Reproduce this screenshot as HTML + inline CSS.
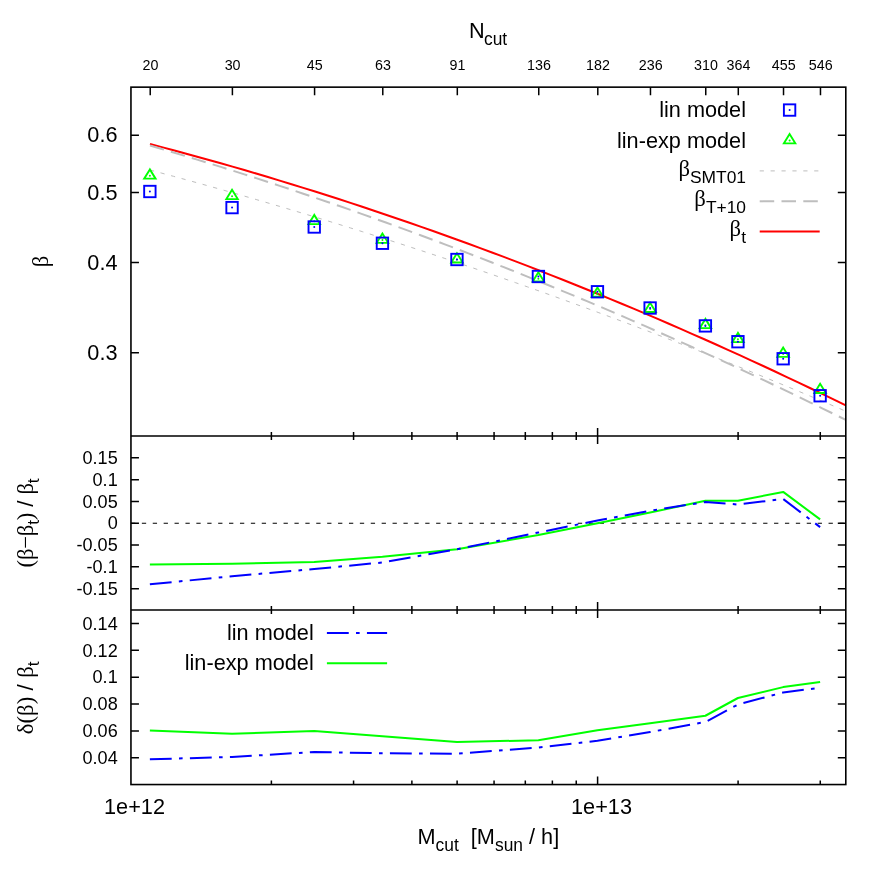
<!DOCTYPE html><html><head><meta charset="utf-8"><title>plot</title><style>html,body{margin:0;padding:0;background:#fff}svg{display:block;will-change:transform}text{font-family:"Liberation Sans",sans-serif;fill:#000;white-space:pre}.s{font-family:"Liberation Serif",serif}</style></head><body>
<svg width="872" height="872" viewBox="0 0 872 872">
<rect width="872" height="872" fill="#fff"/>
<g fill="none" stroke-linejoin="round">
<polyline points="150,144 161.79,147.1 173.59,150.24 185.38,153.43 197.17,156.67 208.97,159.95 220.76,163.28 232.55,166.65 244.35,170.07 256.14,173.53 267.93,177.04 279.73,180.6 291.52,184.2 303.31,187.85 315.11,191.55 326.9,195.29 338.69,199.07 350.48,202.91 362.28,206.78 374.07,210.71 385.86,214.68 397.66,218.7 409.45,222.76 421.24,226.87 433.04,231.02 444.83,235.22 456.62,239.47 468.42,243.76 480.21,248.1 492,252.48 503.8,256.92 515.59,261.39 527.38,265.91 539.18,270.48 550.97,275.1 562.76,279.76 574.56,284.46 586.35,289.22 598.14,294.01 609.94,298.86 621.73,303.75 633.52,308.69 645.32,313.67 657.11,318.7 668.9,323.77 680.69,328.89 692.49,334.06 704.28,339.27 716.07,344.53 727.87,349.83 739.66,355.18 751.45,360.58 763.25,366.02 775.04,371.51 786.83,377.04 798.63,382.62 810.42,388.25 822.21,393.92 834.01,399.64 845.8,405.4" stroke="#ff0000" stroke-width="2"/>
<polyline points="150,145.54 161.79,149 173.59,152.5 185.38,156.04 197.17,159.62 208.97,163.24 220.76,166.91 232.55,170.61 244.35,174.36 256.14,178.15 267.93,181.98 279.73,185.85 291.52,189.76 303.31,193.71 315.11,197.7 326.9,201.74 338.69,205.81 350.48,209.93 362.28,214.09 374.07,218.28 385.86,222.52 397.66,226.81 409.45,231.13 421.24,235.49 433.04,239.89 444.83,244.34 456.62,248.83 468.42,253.35 480.21,257.92 492,262.53 503.8,267.18 515.59,271.88 527.38,276.61 539.18,281.38 550.97,286.2 562.76,291.05 574.56,295.95 586.35,300.89 598.14,305.87 609.94,310.89 621.73,315.95 633.52,321.06 645.32,326.2 657.11,331.39 668.9,336.61 680.69,341.88 692.49,347.19 704.28,352.54 716.07,357.93 727.87,363.36 739.66,368.84 751.45,374.35 763.25,379.91 775.04,385.5 786.83,391.14 798.63,396.82 810.42,402.54 822.21,408.3 834.01,414.1 845.8,419.94" stroke="#bebebe" stroke-width="2" stroke-dasharray="14.5 7.3"/>
<polyline points="150,170.01 161.79,173.16 173.59,176.34 185.38,179.55 197.17,182.8 208.97,186.08 220.76,189.39 232.55,192.73 244.35,196.1 256.14,199.51 267.93,202.95 279.73,206.42 291.52,209.93 303.31,213.47 315.11,217.04 326.9,220.64 338.69,224.27 350.48,227.94 362.28,231.64 374.07,235.37 385.86,239.13 397.66,242.93 409.45,246.76 421.24,250.62 433.04,254.51 444.83,258.44 456.62,262.4 468.42,266.39 480.21,270.41 492,274.47 503.8,278.56 515.59,282.68 527.38,286.83 539.18,291.01 550.97,295.23 562.76,299.48 574.56,303.76 586.35,308.08 598.14,312.43 609.94,316.81 621.73,321.22 633.52,325.66 645.32,330.14 657.11,334.65 668.9,339.19 680.69,343.77 692.49,348.37 704.28,353.01 716.07,357.68 727.87,362.39 739.66,367.12 751.45,371.89 763.25,376.69 775.04,381.53 786.83,386.39 798.63,391.29 810.42,396.22 822.21,401.19 834.01,406.18 845.8,411.21" stroke="#bebebe" stroke-width="1" stroke-dasharray="4.2 6.7"/>
</g>
<g fill="none" stroke="#00ff00" stroke-width="1.9" stroke-linejoin="miter">
<path d="M149.87 169.42L144.17 178.65L155.57 178.65Z"/>
<path d="M232.05 189.87L226.35 199.1L237.75 199.1Z"/>
<path d="M314.23 214.92L308.53 224.15L319.93 224.15Z"/>
<path d="M382.43 233.62L376.73 242.85L388.13 242.85Z"/>
<path d="M456.96 253.22L451.26 262.45L462.66 262.45Z"/>
<path d="M538.4 272.32L532.7 281.55L544.1 281.55Z"/>
<path d="M597.45 287.52L591.75 296.75L603.15 296.75Z"/>
<path d="M650.12 302.72L644.42 311.95L655.82 311.95Z"/>
<path d="M705.4 318.92L699.7 328.15L711.1 328.15Z"/>
<path d="M737.94 332.92L732.24 342.15L743.64 342.15Z"/>
<path d="M783.17 347.62L777.47 356.85L788.87 356.85Z"/>
<path d="M820.13 383.82L814.43 393.05L825.83 393.05Z"/>
<path d="M789.6 134.12L783.9 143.35L795.3 143.35Z"/>
</g>
<g fill="#00ff00">
<circle cx="149.87" cy="175.8" r="1"/>
<circle cx="232.05" cy="196.25" r="1"/>
<circle cx="314.23" cy="221.3" r="1"/>
<circle cx="382.43" cy="240" r="1"/>
<circle cx="456.96" cy="259.6" r="1"/>
<circle cx="538.4" cy="278.7" r="1"/>
<circle cx="597.45" cy="293.9" r="1"/>
<circle cx="650.12" cy="309.1" r="1"/>
<circle cx="705.4" cy="325.3" r="1"/>
<circle cx="737.94" cy="339.3" r="1"/>
<circle cx="783.17" cy="354" r="1"/>
<circle cx="820.13" cy="390.2" r="1"/>
<circle cx="789.6" cy="140.5" r="1"/></g>
<g fill="none" stroke="#0000ff" stroke-width="1.9">
<rect x="144.17" y="185.8" width="11.4" height="11.4"/>
<rect x="226.35" y="201.9" width="11.4" height="11.4"/>
<rect x="308.53" y="221.3" width="11.4" height="11.4"/>
<rect x="376.73" y="237.55" width="11.4" height="11.4"/>
<rect x="451.26" y="253.8" width="11.4" height="11.4"/>
<rect x="532.7" y="270.8" width="11.4" height="11.4"/>
<rect x="591.75" y="286.05" width="11.4" height="11.4"/>
<rect x="644.42" y="302.3" width="11.4" height="11.4"/>
<rect x="699.7" y="320.2" width="11.4" height="11.4"/>
<rect x="732.24" y="336" width="11.4" height="11.4"/>
<rect x="777.47" y="353.05" width="11.4" height="11.4"/>
<rect x="814.43" y="390.05" width="11.4" height="11.4"/>
<rect x="783.9" y="104.35" width="11.4" height="11.4"/>
</g>
<g fill="#0000ff">
<circle cx="149.87" cy="191.5" r="1"/>
<circle cx="232.05" cy="207.6" r="1"/>
<circle cx="314.23" cy="227" r="1"/>
<circle cx="382.43" cy="243.25" r="1"/>
<circle cx="456.96" cy="259.5" r="1"/>
<circle cx="538.4" cy="276.5" r="1"/>
<circle cx="597.45" cy="291.75" r="1"/>
<circle cx="650.12" cy="308" r="1"/>
<circle cx="705.4" cy="325.9" r="1"/>
<circle cx="737.94" cy="341.7" r="1"/>
<circle cx="783.17" cy="358.75" r="1"/>
<circle cx="820.13" cy="395.75" r="1"/>
<circle cx="789.6" cy="110.05" r="1"/></g>
<g fill="none">
<line x1="759.7" y1="170.9" x2="818.5" y2="170.9" stroke="#bebebe" stroke-width="1" stroke-dasharray="4.2 6.7"/>
<line x1="759.7" y1="201.3" x2="818.5" y2="201.3" stroke="#bebebe" stroke-width="2" stroke-dasharray="14.5 7.3"/>
<line x1="759.7" y1="231.6" x2="819.7" y2="231.6" stroke="#ff0000" stroke-width="2"/>
</g>
<g fill="none" stroke-linejoin="round">
<line x1="130.95" y1="523.25" x2="845.8" y2="523.25" stroke="#000" stroke-width="1.15" stroke-dasharray="4.3 6.6"/>
<polyline points="149.87,564.5 232.05,563.75 314.23,562 382.43,556.75 456.96,549.25 538.4,535 597.45,523.25 650.12,512.5 705.4,500.75 737.94,500.75 783.17,491.9 820.13,519.4" stroke="#00ff00" stroke-width="2"/>
<polyline points="149.87,584.25 232.05,576.25 314.23,569 382.43,562.5 456.96,549.25 538.4,532.5 597.45,520.5 650.12,510.75 705.4,502 737.94,504.5 783.17,499 820.13,527.1" stroke="#0000ff" stroke-width="2" stroke-dasharray="21.84 7.28 3.64 7.28"/>
<polyline points="149.87,730.5 232.05,733.75 314.23,731 382.43,736.25 456.96,742 538.4,740.25 597.45,730.25 650.12,723.25 705.4,715.75 737.94,698 783.17,687.1 820.13,681.9" stroke="#00ff00" stroke-width="2"/>
<polyline points="149.87,759.25 232.05,757 314.23,752 382.43,753.25 456.96,753.75 538.4,747.5 597.45,740.75 650.12,732 705.4,722 737.94,704.5 783.17,692.5 820.13,687.75" stroke="#0000ff" stroke-width="2" stroke-dasharray="21.84 7.28 3.64 7.28"/>
<line x1="326.9" y1="633.05" x2="387.1" y2="633.05" stroke="#0000ff" stroke-width="2" stroke-dasharray="21.84 7.28 3.64 7.28"/>
<line x1="326.9" y1="663.3" x2="387.1" y2="663.3" stroke="#00ff00" stroke-width="2"/>
</g>
<path d="M150.22 87.15V95.15M232.4 87.15V95.15M314.58 87.15V95.15M382.78 87.15V95.15M457.31 87.15V95.15M538.75 87.15V95.15M597.8 87.15V95.15M650.47 87.15V95.15M705.75 87.15V95.15M738.29 87.15V95.15M783.52 87.15V95.15M820.48 87.15V95.15M271.39 432V440M271.39 606V614M271.39 780.55V784.55M353.57 432V440M353.57 606V614M353.57 780.55V784.55M411.88 432V440M411.88 606V614M411.88 780.55V784.55M457.11 432V440M457.11 606V614M457.11 780.55V784.55M494.06 432V440M494.06 606V614M494.06 780.55V784.55M525.31 432V440M525.31 606V614M525.31 780.55V784.55M552.37 432V440M552.37 606V614M552.37 780.55V784.55M576.24 432V440M576.24 606V614M576.24 780.55V784.55M738.09 432V440M738.09 606V614M738.09 780.55V784.55M820.27 432V440M820.27 606V614M820.27 780.55V784.55M597.6 428V444M597.6 602V618M597.6 776.55V784.55M130.95 135.34H138.95M837.8 135.34H845.8M130.95 192.5H138.95M837.8 192.5H845.8M130.95 262.47H138.95M837.8 262.47H845.8M130.95 352.68H138.95M837.8 352.68H845.8M130.95 588.65H138.95M837.8 588.65H845.8M130.95 566.85H138.95M837.8 566.85H845.8M130.95 545.05H138.95M837.8 545.05H845.8M130.95 523.25H138.95M837.8 523.25H845.8M130.95 501.45H138.95M837.8 501.45H845.8M130.95 479.65H138.95M837.8 479.65H845.8M130.95 457.85H138.95M837.8 457.85H845.8M130.95 757.75H138.95M837.8 757.75H845.8M130.95 730.9H138.95M837.8 730.9H845.8M130.95 704.05H138.95M837.8 704.05H845.8M130.95 677.2H138.95M837.8 677.2H845.8M130.95 650.35H138.95M837.8 650.35H845.8M130.95 623.5H138.95M837.8 623.5H845.8" stroke="#000" stroke-width="1.5" fill="none"/>
<g fill="none" stroke="#000" stroke-width="1.6">
<rect x="130.95" y="87.15" width="714.85" height="697.4"/>
<path d="M130.95 436H845.8M130.95 610H845.8"/>
</g>
<text transform="translate(150.42 70.25) scale(1 1.035)" font-size="14.3" text-anchor="middle">20</text>
<text transform="translate(232.6 70.25) scale(1 1.035)" font-size="14.3" text-anchor="middle">30</text>
<text transform="translate(314.78 70.25) scale(1 1.035)" font-size="14.3" text-anchor="middle">45</text>
<text transform="translate(382.98 70.25) scale(1 1.035)" font-size="14.3" text-anchor="middle">63</text>
<text transform="translate(457.51 70.25) scale(1 1.035)" font-size="14.3" text-anchor="middle">91</text>
<text transform="translate(538.95 70.25) scale(1 1.035)" font-size="14.3" text-anchor="middle">136</text>
<text transform="translate(598 70.25) scale(1 1.035)" font-size="14.3" text-anchor="middle">182</text>
<text transform="translate(650.67 70.25) scale(1 1.035)" font-size="14.3" text-anchor="middle">236</text>
<text transform="translate(705.95 70.25) scale(1 1.035)" font-size="14.3" text-anchor="middle">310</text>
<text transform="translate(738.49 70.25) scale(1 1.035)" font-size="14.3" text-anchor="middle">364</text>
<text transform="translate(783.72 70.25) scale(1 1.035)" font-size="14.3" text-anchor="middle">455</text>
<text transform="translate(820.68 70.25) scale(1 1.035)" font-size="14.3" text-anchor="middle">546</text>
<text transform="translate(469 37.75) scale(1 1.035)" font-size="21.7">N<tspan font-size="17.4" dy="7.2" dx="-0.7">cut</tspan></text>
<text transform="translate(117.5 142.39) scale(1 1.035)" font-size="21.7" text-anchor="end">0.6</text>
<text transform="translate(117.5 199.55) scale(1 1.035)" font-size="21.7" text-anchor="end">0.5</text>
<text transform="translate(117.5 269.52) scale(1 1.035)" font-size="21.7" text-anchor="end">0.4</text>
<text transform="translate(117.5 359.73) scale(1 1.035)" font-size="21.7" text-anchor="end">0.3</text>
<text transform="translate(117.7 464) scale(1 1.035)" font-size="18.1" text-anchor="end">0.15</text>
<text transform="translate(117.7 485.8) scale(1 1.035)" font-size="18.1" text-anchor="end">0.1</text>
<text transform="translate(117.7 507.6) scale(1 1.035)" font-size="18.1" text-anchor="end">0.05</text>
<text transform="translate(117.7 529.4) scale(1 1.035)" font-size="18.1" text-anchor="end">0</text>
<text transform="translate(117.7 551.2) scale(1 1.035)" font-size="18.1" text-anchor="end">-0.05</text>
<text transform="translate(117.7 573) scale(1 1.035)" font-size="18.1" text-anchor="end">-0.1</text>
<text transform="translate(117.7 594.8) scale(1 1.035)" font-size="18.1" text-anchor="end">-0.15</text>
<text transform="translate(117.7 629.65) scale(1 1.035)" font-size="18.1" text-anchor="end">0.14</text>
<text transform="translate(117.7 656.5) scale(1 1.035)" font-size="18.1" text-anchor="end">0.12</text>
<text transform="translate(117.7 683.35) scale(1 1.035)" font-size="18.1" text-anchor="end">0.1</text>
<text transform="translate(117.7 710.2) scale(1 1.035)" font-size="18.1" text-anchor="end">0.08</text>
<text transform="translate(117.7 737.05) scale(1 1.035)" font-size="18.1" text-anchor="end">0.06</text>
<text transform="translate(117.7 763.9) scale(1 1.035)" font-size="18.1" text-anchor="end">0.04</text>
<text transform="translate(134.5 813.75) scale(1 1.035)" font-size="21.7" text-anchor="middle">1e+12</text>
<text transform="translate(601.5 813.75) scale(1 1.035)" font-size="21.7" text-anchor="middle">1e+13</text>
<text transform="translate(417.5 844) scale(1 1.035)" font-size="21.7" xml:space="preserve">M<tspan font-size="17.4" dy="6.7">cut</tspan><tspan dy="-6.7">  [M</tspan><tspan font-size="17.4" dy="6.7">sun</tspan><tspan dy="-6.7"> / h]</tspan></text>
<text transform="translate(746 117.45) scale(1 1.035)" font-size="21.7" text-anchor="end">lin model</text>
<text transform="translate(746 147.65) scale(1 1.035)" font-size="21.7" text-anchor="end">lin-exp model</text>
<text x="746" y="175.7" font-size="22.7" text-anchor="end"><tspan class="s">β</tspan><tspan font-size="17.4" dy="7">SMT01</tspan></text>
<text x="746" y="206" font-size="22.7" text-anchor="end"><tspan class="s">β</tspan><tspan font-size="17.4" dy="7">T+10</tspan></text>
<text x="746" y="236.2" font-size="22.7" text-anchor="end"><tspan class="s">β</tspan><tspan font-size="17.4" dy="7">t</tspan></text>
<text transform="translate(313.75 640.25) scale(1 1.035)" font-size="21.7" text-anchor="end">lin model</text>
<text transform="translate(313.75 670.25) scale(1 1.035)" font-size="21.7" text-anchor="end">lin-exp model</text>
<text transform="translate(48,261.5) rotate(-90)" font-size="22.7" text-anchor="middle" class="s">β</text>
<text transform="translate(33.1,523.0) rotate(-90)" font-size="22.7" letter-spacing="-0.2" text-anchor="middle" xml:space="preserve"><tspan class="s">(β−β</tspan><tspan font-size="17.4" dy="6">t</tspan><tspan class="s" dy="-6">)</tspan> / <tspan class="s">β</tspan><tspan font-size="17.4" dy="6">t</tspan></text>
<text transform="translate(33.0,697.8) rotate(-90)" font-size="22.7" text-anchor="middle" xml:space="preserve"><tspan class="s">δ(β)</tspan> / <tspan class="s">β</tspan><tspan font-size="17.4" dy="6">t</tspan></text>
</svg></body></html>
